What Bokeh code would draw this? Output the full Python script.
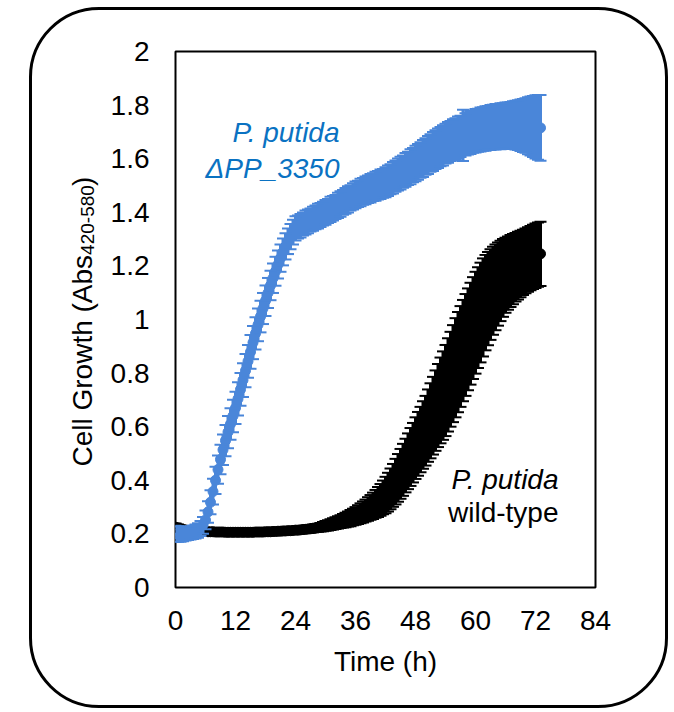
import math
from bokeh.plotting import figure
from bokeh.models import ColumnDataSource, Whisker, TeeHead, FixedTicker, Label
from bokeh.embed import file_html
from bokeh.resources import INLINE

# ---------------- data ----------------
time_h = [
    0, 0.5, 1, 1.5, 2, 2.5, 3, 3.5, 4, 4.5, 5, 5.5,
    6, 6.5, 7, 7.5, 8, 8.5, 9, 9.5, 10, 10.5, 11, 11.5,
    12, 12.5, 13, 13.5, 14, 14.5, 15, 15.5, 16, 16.5, 17, 17.5,
    18, 18.5, 19, 19.5, 20, 20.5, 21, 21.5, 22, 22.5, 23, 23.5,
    24, 24.5, 25, 25.5, 26, 26.5, 27, 27.5, 28, 28.5, 29, 29.5,
    30, 30.5, 31, 31.5, 32, 32.5, 33, 33.5, 34, 34.5, 35, 35.5,
    36, 36.5, 37, 37.5, 38, 38.5, 39, 39.5, 40, 40.5, 41, 41.5,
    42, 42.5, 43, 43.5, 44, 44.5, 45, 45.5, 46, 46.5, 47, 47.5,
    48, 48.5, 49, 49.5, 50, 50.5, 51, 51.5, 52, 52.5, 53, 53.5,
    54, 54.5, 55, 55.5, 56, 56.5, 57, 57.5, 58, 58.5, 59, 59.5,
    60, 60.5, 61, 61.5, 62, 62.5, 63, 63.5, 64, 64.5, 65, 65.5,
    66, 66.5, 67, 67.5, 68, 68.5, 69, 69.5, 70, 70.5, 71, 71.5,
    72, 72.5, 73,
]

# P. putida dPP_3350 (blue)
mutant_mean = [
    0.200, 0.200, 0.199, 0.200, 0.201, 0.202, 0.204, 0.206, 0.209, 0.213, 0.220,
    0.232, 0.252, 0.282, 0.318, 0.358, 0.400, 0.440, 0.478, 0.514, 0.548, 0.580, 0.610, 0.640,
    0.670, 0.704, 0.739, 0.774, 0.809, 0.844, 0.879, 0.914, 0.948, 0.980, 1.011, 1.041, 1.070,
    1.099, 1.127, 1.154, 1.180, 1.205, 1.229, 1.252, 1.273, 1.292, 1.309, 1.326, 1.340,
    1.345, 1.350, 1.356, 1.362, 1.366, 1.371, 1.376, 1.381, 1.386, 1.390, 1.395, 1.400,
    1.405, 1.411, 1.415, 1.420, 1.426, 1.431, 1.437, 1.443, 1.448, 1.454, 1.459, 1.465,
    1.469, 1.474, 1.478, 1.482, 1.486, 1.490, 1.494, 1.497, 1.501, 1.505, 1.508, 1.512,
    1.518, 1.523, 1.529, 1.535, 1.541, 1.546, 1.552, 1.558, 1.564, 1.570, 1.576, 1.582,
    1.588, 1.595, 1.601, 1.608, 1.614, 1.621, 1.627, 1.634, 1.639, 1.645, 1.650, 1.656,
    1.661, 1.666, 1.670, 1.675, 1.679, 1.683, 1.687, 1.691, 1.694, 1.698, 1.701, 1.704,
    1.706, 1.709, 1.711, 1.713, 1.715, 1.716, 1.718, 1.719, 1.720, 1.721, 1.722, 1.723,
    1.724, 1.724, 1.725, 1.725, 1.725, 1.725, 1.724, 1.724, 1.723, 1.722, 1.720, 1.719,
    1.717, 1.715,
]
mutant_err = [
    0.030, 0.029, 0.028, 0.027, 0.026, 0.025, 0.025, 0.025, 0.026, 0.027, 0.028,
    0.031, 0.035, 0.040, 0.045, 0.048, 0.051, 0.053, 0.055, 0.057, 0.058, 0.060, 0.059, 0.061,
    0.060, 0.062, 0.061, 0.063, 0.062, 0.061, 0.063, 0.062, 0.060, 0.061, 0.059, 0.058, 0.057,
    0.056, 0.055, 0.055, 0.054, 0.052, 0.051, 0.050, 0.049, 0.048, 0.047, 0.046, 0.045,
    0.043, 0.044, 0.043, 0.045, 0.044, 0.043, 0.045, 0.044, 0.046, 0.045, 0.044, 0.046,
    0.045, 0.047, 0.046, 0.045, 0.047, 0.048, 0.046, 0.048, 0.049, 0.047, 0.049, 0.050,
    0.049, 0.051, 0.050, 0.052, 0.051, 0.053, 0.052, 0.054, 0.053, 0.055, 0.054, 0.056,
    0.057, 0.056, 0.059, 0.058, 0.060, 0.061, 0.060, 0.063, 0.062, 0.065, 0.064, 0.066,
    0.067, 0.066, 0.069, 0.068, 0.071, 0.070, 0.073, 0.072, 0.074, 0.073, 0.075, 0.074,
    0.076, 0.075, 0.077, 0.076, 0.078, 0.077, 0.096, 0.079, 0.078, 0.080, 0.079, 0.081,
    0.080, 0.082, 0.081, 0.083, 0.082, 0.084, 0.083, 0.085, 0.084, 0.086, 0.085, 0.087,
    0.086, 0.088, 0.089, 0.091, 0.093, 0.096, 0.099, 0.102, 0.106, 0.110, 0.114, 0.118,
    0.121, 0.123,
]

# P. putida wild-type (black)
wt_mean = [
    0.225, 0.222, 0.219, 0.216, 0.214, 0.213, 0.212, 0.211, 0.211, 0.210, 0.210,
    0.209, 0.209, 0.208, 0.208, 0.208, 0.207, 0.207, 0.207, 0.207, 0.206, 0.206, 0.206, 0.206,
    0.206, 0.206, 0.206, 0.206, 0.206, 0.206, 0.206, 0.206, 0.207, 0.207, 0.207, 0.207, 0.208,
    0.208, 0.208, 0.209, 0.209, 0.210, 0.210, 0.211, 0.211, 0.212, 0.212, 0.213, 0.214,
    0.214, 0.215, 0.216, 0.217, 0.218, 0.219, 0.220, 0.222, 0.223, 0.225, 0.227, 0.230,
    0.232, 0.235, 0.237, 0.240, 0.243, 0.246, 0.249, 0.252, 0.256, 0.259, 0.263, 0.267,
    0.272, 0.277, 0.282, 0.287, 0.293, 0.299, 0.305, 0.312, 0.319, 0.327, 0.336, 0.345,
    0.356, 0.368, 0.381, 0.395, 0.409, 0.424, 0.439, 0.455, 0.471, 0.487, 0.503, 0.520,
    0.536, 0.552, 0.569, 0.585, 0.604, 0.622, 0.641, 0.660, 0.679, 0.698, 0.716, 0.735,
    0.756, 0.777, 0.798, 0.820, 0.841, 0.862, 0.884, 0.905, 0.926, 0.947, 0.968, 0.988,
    1.007, 1.026, 1.045, 1.063, 1.078, 1.093, 1.107, 1.120, 1.132, 1.144, 1.155, 1.165,
    1.173, 1.181, 1.188, 1.195, 1.201, 1.207, 1.213, 1.219, 1.224, 1.229, 1.234, 1.238,
    1.242, 1.245,
]
wt_err = [
    0.014, 0.013, 0.012, 0.012, 0.011, 0.011, 0.011, 0.010, 0.010, 0.010, 0.010,
    0.010, 0.009, 0.010, 0.010, 0.009, 0.010, 0.010, 0.009, 0.010, 0.010, 0.010, 0.009, 0.010,
    0.010, 0.010, 0.009, 0.010, 0.010, 0.010, 0.010, 0.011, 0.010, 0.010, 0.011, 0.010, 0.011,
    0.011, 0.011, 0.010, 0.011, 0.011, 0.012, 0.011, 0.011, 0.012, 0.012, 0.011, 0.012,
    0.012, 0.013, 0.012, 0.013, 0.013, 0.014, 0.014, 0.015, 0.015, 0.016, 0.017, 0.018,
    0.019, 0.020, 0.021, 0.022, 0.023, 0.024, 0.025, 0.027, 0.028, 0.030, 0.031, 0.033,
    0.035, 0.037, 0.039, 0.041, 0.044, 0.046, 0.049, 0.052, 0.056, 0.059, 0.063, 0.068,
    0.072, 0.076, 0.080, 0.085, 0.089, 0.093, 0.097, 0.100, 0.104, 0.108, 0.111, 0.115,
    0.119, 0.122, 0.126, 0.130, 0.135, 0.140, 0.145, 0.150, 0.155, 0.160, 0.165, 0.170,
    0.174, 0.177, 0.181, 0.185, 0.187, 0.188, 0.189, 0.190, 0.190, 0.190, 0.190, 0.190,
    0.188, 0.186, 0.183, 0.178, 0.174, 0.169, 0.164, 0.160, 0.155, 0.150, 0.145, 0.140,
    0.137, 0.134, 0.131, 0.128, 0.126, 0.124, 0.122, 0.121, 0.120, 0.120, 0.120, 0.120,
    0.120, 0.120,
]

assert len(time_h) == len(mutant_mean) == len(mutant_err) == len(wt_mean) == len(wt_err)

x_ticks = [0, 12, 24, 36, 48, 60, 72, 84]
x_tick_labels = ["0", "12", "24", "36", "48", "60", "72", "84"]
y_ticks = [0, 0.2, 0.4, 0.6, 0.8, 1, 1.2, 1.4, 1.6, 1.8, 2]
y_tick_labels = ["0", "0.2", "0.4", "0.6", "0.8", "1", "1.2", "1.4", "1.6", "1.8", "2"]

mutant_label = ["P. putida", "\u0394PP_3350"]
wt_label = ["P. putida", "wild-type"]
y_title_parts = ["Cell Growth (Abs", "420-580", ")"]

# ---------------- styling ----------------
FONT = "Liberation Sans"
FS = "28px"
BLUE = "#4a86d9"
BLUE_TEXT = "#0a72c2"

p = figure(width=674, height=712, x_range=(0, 84), y_range=(0, 2),
           output_backend="svg", toolbar_location=None, tools="",
           min_border_left=175, min_border_right=79,
           min_border_top=51, min_border_bottom=125)
p.background_fill_color = "white"
p.border_fill_color = "white"
p.outline_line_color = "black"
p.outline_line_width = 2
p.xgrid.visible = False
p.ygrid.visible = False

for ax in (p.xaxis[0], p.yaxis[0]):
    ax.axis_line_color = None
    ax.major_tick_line_color = None
    ax.minor_tick_line_color = None
    ax.major_tick_out = 0
    ax.major_tick_in = 0
    ax.minor_tick_out = 0
    ax.minor_tick_in = 0
    ax.major_label_text_font = FONT
    ax.major_label_text_font_size = FS
    ax.major_label_text_color = "black"
    ax.axis_label_text_font = FONT
    ax.axis_label_text_font_size = FS
    ax.axis_label_text_font_style = "normal"
    ax.axis_label_text_color = "black"

p.xaxis.ticker = FixedTicker(ticks=x_ticks)
p.xaxis.major_label_overrides = dict(zip(x_ticks, x_tick_labels))
p.xaxis.major_label_standoff = 23
p.xaxis.axis_label = "Time (h)"
p.xaxis.axis_label_standoff = 13

p.yaxis.ticker = FixedTicker(ticks=y_ticks)
p.yaxis.major_label_overrides = dict(zip(y_ticks, y_tick_labels))
p.yaxis.major_label_standoff = 26


def add_series(mean, err, color, size):
    lower = [m - e for m, e in zip(mean, err)]
    upper = [m + e for m, e in zip(mean, err)]
    src = ColumnDataSource(dict(t=time_h, m=mean, lower=lower, upper=upper))
    w = Whisker(source=src, base="t", lower="lower", upper="upper", dimension="height",
                line_color=color, line_width=3, level="glyph",
                upper_head=TeeHead(size=12, line_color=color, line_width=2),
                lower_head=TeeHead(size=12, line_color=color, line_width=2))
    p.add_layout(w)
    p.scatter("t", "m", source=src, marker="circle", size=size,
              fill_color=color, line_color=color, level="glyph")


add_series(wt_mean, wt_err, "black", 10)
add_series(mutant_mean, mutant_err, BLUE, 10)

# in-plot series labels
p.add_layout(Label(x=32.8, y=1.697, text=mutant_label[0], text_align="right",
                   text_baseline="alphabetic", text_font=FONT, text_font_size=FS,
                   text_font_style="italic", text_color=BLUE_TEXT))
p.add_layout(Label(x=32.8, y=1.563, text=mutant_label[1], text_align="right",
                   text_baseline="alphabetic", text_font=FONT, text_font_size=FS,
                   text_font_style="italic", text_color=BLUE_TEXT))
p.add_layout(Label(x=76.6, y=0.403, text=wt_label[0], text_align="right",
                   text_baseline="alphabetic", text_font=FONT, text_font_size=FS,
                   text_font_style="italic", text_color="black"))
p.add_layout(Label(x=76.6, y=0.280, text=wt_label[1], text_align="right",
                   text_baseline="alphabetic", text_font=FONT, text_font_size=FS,
                   text_font_style="normal", text_color="black"))

# y axis title with subscript, as rotated labels in the left side panel
ang = math.pi / 2
p.add_layout(Label(x=81.5, y=466, x_units="canvas", y_units="canvas", angle=ang,
                   text=y_title_parts[0], text_align="left", text_baseline="alphabetic",
                   text_font=FONT, text_font_size=FS, text_color="black"), "left")
p.add_layout(Label(x=86.5, y=254.4, x_units="canvas", y_units="canvas", angle=ang,
                   text=y_title_parts[1], text_align="left", text_baseline="alphabetic",
                   text_font=FONT, text_font_size="19px", text_color="black"), "left")
p.add_layout(Label(x=81.5, y=185.6, x_units="canvas", y_units="canvas", angle=ang,
                   text=y_title_parts[2], text_align="left", text_baseline="alphabetic",
                   text_font=FONT, text_font_size=FS, text_color="black"), "left")

# rounded outer border drawn around the whole figure
p.stylesheets = [
    ":host { position: relative; }"
    ":host::after { content: ''; position: absolute; left: 29px; top: 7px;"
    " width: 639px; height: 701px; box-sizing: border-box;"
    " border: 3px solid black; border-radius: 70px; pointer-events: none; }"
]

open("out.html", "w").write(file_html(p, INLINE))
